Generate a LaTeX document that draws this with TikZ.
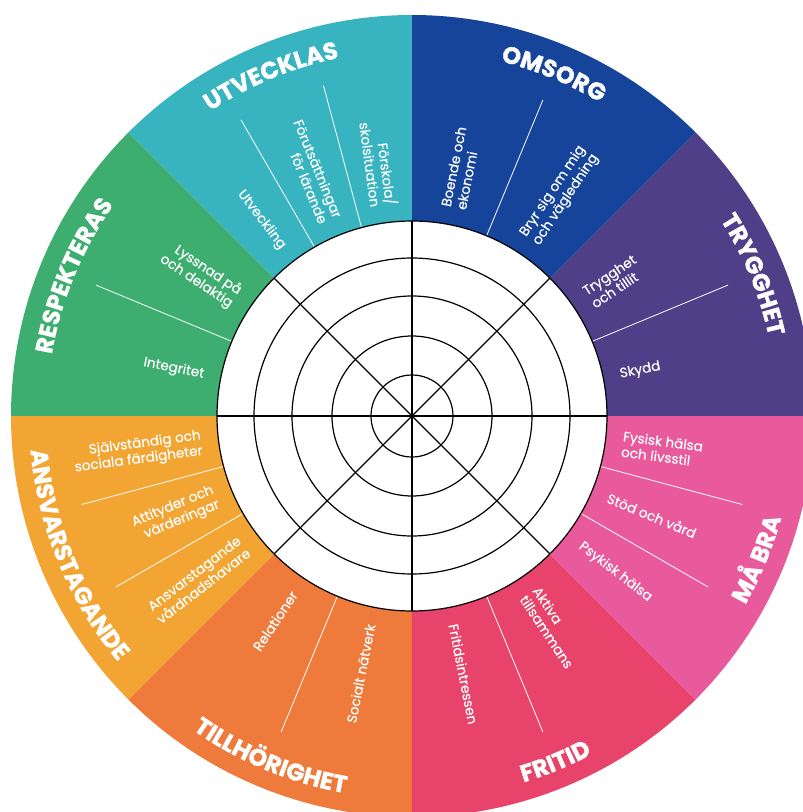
\documentclass[tikz,border=0pt]{standalone}
\usepackage{fontspec}
\setmainfont{Poppins}[BoldFeatures={FakeBold=1.2}]
\newfontfamily\itemfamily{Poppins}[FakeBold=0.4]
\usetikzlibrary{decorations.text}

\definecolor{trygghetpurple}{HTML}{4E3F88}
\definecolor{omsorgblue}{HTML}{15449A}
\definecolor{utvecklasteal}{HTML}{38B4C0}
\definecolor{respektgreen}{HTML}{3DAE70}
\definecolor{ansvarorange}{HTML}{F3A533}
\definecolor{tillhorange}{HTML}{EE7A3B}
\definecolor{fritidred}{HTML}{E8446B}
\definecolor{mabrapink}{HTML}{E95A9C}

\newcommand{\wheeltitle}{\fontsize{24}{24}\selectfont\bfseries}
\newcommand{\wheelsub}{\itemfamily\fontsize{13.6}{15.6}\selectfont}

\tikzset{
  ring/.style={draw=black, line width=1.2pt},
  spoke/.style={black, line width=1.2pt},
  divider/.style={white, line width=0.8pt},
  sublabel/.style={text=white, font=\wheelsub, inner sep=0pt},
  arctitle/.style={decorate, decoration={text along path, text color=white, text align=center}}
}

\begin{document}
\begin{tikzpicture}

    \useasboundingbox (-412pt,-396pt) rectangle (391pt,416pt);
    \fill[white] (-412pt,-396pt) rectangle (391pt,416pt);
    \clip (-412pt,-396pt) rectangle (391pt,416pt);

    % these are the coloured sectors
    \fill[trygghetpurple] (0,0) -- (0:401pt) arc[start angle=0, end angle=45, radius=401pt] -- cycle;
    \fill[omsorgblue] (0,0) -- (45:401pt) arc[start angle=45, end angle=90, radius=401pt] -- cycle;
    \fill[utvecklasteal] (0,0) -- (90:401pt) arc[start angle=90, end angle=135, radius=401pt] -- cycle;
    \fill[respektgreen] (0,0) -- (135:401pt) arc[start angle=135, end angle=180, radius=401pt] -- cycle;
    \fill[ansvarorange] (0,0) -- (180:401pt) arc[start angle=180, end angle=225, radius=401pt] -- cycle;
    \fill[tillhorange] (0,0) -- (225:401pt) arc[start angle=225, end angle=270, radius=401pt] -- cycle;
    \fill[fritidred] (0,0) -- (270:401pt) arc[start angle=270, end angle=315, radius=401pt] -- cycle;
    \fill[mabrapink] (0,0) -- (315:401pt) arc[start angle=315, end angle=360, radius=401pt] -- cycle;

    % the white disc and its rings
    \filldraw[fill=white, ring] (0,0) circle[radius=195pt];
    \draw[ring] (0,0) circle[radius=158pt];
    \draw[ring] (0,0) circle[radius=120pt];
    \draw[ring] (0,0) circle[radius=80pt];
    \draw[ring] (0,0) circle[radius=41pt];

    \draw[spoke] (0:195pt) -- (180:195pt);
    \draw[spoke] (90:195pt) -- (270:195pt);
    \draw[spoke] (45:195pt) -- (225:195pt);
    \draw[spoke] (135:195pt) -- (315:195pt);

    % thin lines between the items
    \draw[divider] (22.5:196pt) -- (22.5:342pt);
    \draw[divider] (67.5:196pt) -- (67.5:342pt);
    \draw[divider] (105:196pt) -- (105:342pt);
    \draw[divider] (120:196pt) -- (120:342pt);
    \draw[divider] (157.5:196pt) -- (157.5:342pt);
    \draw[divider] (195:196pt) -- (195:342pt);
    \draw[divider] (210:196pt) -- (210:342pt);
    \draw[divider] (247.5:196pt) -- (247.5:342pt);
    \draw[divider] (292.5:196pt) -- (292.5:342pt);
    \draw[divider] (330:196pt) -- (330:342pt);
    \draw[divider] (345:196pt) -- (345:342pt);

    % the titles along the rim
    \path[arctitle, decoration={text={|\wheeltitle|TRYGGHET}}] (45:365.5pt) arc[start angle=45, end angle=0, radius=365.5pt];
    \path[arctitle, decoration={text={|\wheeltitle|OMSORG}}] (90:365.5pt) arc[start angle=90, end angle=45, radius=365.5pt];
    \path[arctitle, decoration={text={|\wheeltitle|UTVECKLAS}}] (135:365.5pt) arc[start angle=135, end angle=90, radius=365.5pt];
    \path[arctitle, decoration={text={|\wheeltitle|RESPEKTERAS}}] (180:365.5pt) arc[start angle=180, end angle=135, radius=365.5pt];
    \path[arctitle, decoration={text={|\wheeltitle|ANSVARSTAGANDE}}] (180:383pt) arc[start angle=180, end angle=225, radius=383pt];
    \path[arctitle, decoration={text={|\wheeltitle|TILLHÖRIGHET}}] (225:383pt) arc[start angle=225, end angle=270, radius=383pt];
    \path[arctitle, decoration={text={|\wheeltitle|FRITID}}] (270:383pt) arc[start angle=270, end angle=315, radius=383pt];
    \path[arctitle, decoration={text={|\wheeltitle|MÅ BRA}}] (315:383pt) arc[start angle=315, end angle=360, radius=383pt];

    % the items
    \node[sublabel, rotate=33.75, anchor=west, align=left] (trygghet) at (33.75:212pt) {Trygghet\\och tillit};
    \node[sublabel, rotate=11.25, anchor=west, align=left] (skydd) at (11.25:212pt) {Skydd};
    \node[sublabel, rotate=56.25, anchor=west, align=left] (bryr) at (56.25:212pt) {Bryr sig om mig\\och vägledning};
    \node[sublabel, rotate=78.75, anchor=west, align=left] (boende) at (78.75:212pt) {Boende och\\ekonomi};
    \node[sublabel, rotate=-82.5, anchor=east, align=right] (forskola) at (97.5:212pt) {Förskola/\\skolsituation};
    \node[sublabel, rotate=-67.5, anchor=east, align=right] (forutsattning) at (112.5:212pt) {Förutsättningar\\för lärande};
    \node[sublabel, rotate=-52.5, anchor=east, align=right] (utveckling) at (127.5:212pt) {Utveckling};
    \node[sublabel, rotate=-33.75, anchor=east, align=right] (lyssnad) at (146.25:212pt) {Lyssnad på\\och delaktig};
    \node[sublabel, rotate=-11.25, anchor=east, align=right] (integritet) at (168.75:212pt) {Integritet};
    \node[sublabel, rotate=7.5, anchor=east, align=right] (sjalvstandig) at (187.5:212pt) {Självständig och\\sociala färdigheter};
    \node[sublabel, rotate=22.5, anchor=east, align=right] (attityder) at (202.5:212pt) {Attityder och\\värderingar};
    \node[sublabel, rotate=37.5, anchor=east, align=right] (ansvar) at (217.5:212pt) {Ansvarstagande\\vårdnadshavare};
    \node[sublabel, rotate=56.25, anchor=east, align=right] (relationer) at (236.25:212pt) {Relationer};
    \node[sublabel, rotate=78.75, anchor=east, align=right] (natverk) at (258.75:212pt) {Socialt nätverk};
    \node[sublabel, rotate=-78.75, anchor=west, align=left] (fritidsintressen) at (281.25:212pt) {Fritidsintressen};
    \node[sublabel, rotate=-56.25, anchor=west, align=left] (aktiva) at (303.75:212pt) {Aktiva\\tillsammans};
    \node[sublabel, rotate=-37.5, anchor=west, align=left] (psykisk) at (322.5:212pt) {Psykisk hälsa};
    \node[sublabel, rotate=-22.5, anchor=west, align=left] (stod) at (337.5:212pt) {Stöd och vård};
    \node[sublabel, rotate=-7.5, anchor=west, align=left] (fysisk) at (352.5:212pt) {Fysisk hälsa\\och livsstil};

\end{tikzpicture}
\end{document}
